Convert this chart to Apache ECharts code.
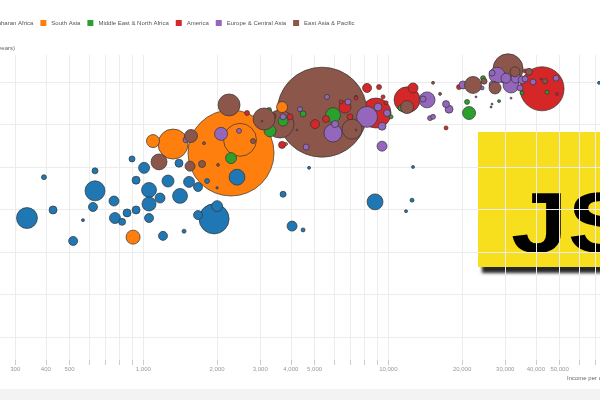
<!DOCTYPE html>
<html>
<head>
<meta charset="utf-8">
<script src="https://cdn.jsdelivr.net/npm/echarts@6/dist/echarts.min.js"></script>
<style>
  html, body { margin: 0; padding: 0; background: #f3f3f3; }
  #chart { width: 600px; height: 389px; background: #fff; }
</style>
</head>
<body>
<div id="chart"></div>
<script>
// Gapminder style bubbles: [income per capita, life expectancy, population (millions)]
const REGIONS = ['Sub-Saharan Africa', 'South Asia', 'Middle East & North Africa',
  'America', 'Europe & Central Asia', 'East Asia & Pacific']
const COLORS = ['#1f77b4', '#ff7f0e', '#2ca02c', '#d62728', '#9467bd', '#8c564b']

const SUB_SAHARAN = [
  [335, 48.0, 69], [393, 57.6, 3.9], [428, 49.9, 10], [517, 42.6, 12.8], [567, 47.5, 1.4],
  [635, 59.1, 5.7], [635, 54.4, 63], [623, 50.6, 12.8], [759, 52.0, 15.7], [766, 48.0, 19],
  [819, 47.1, 7.7], [858, 49.2, 10], [899, 61.9, 5.7], [934, 49.9, 10], [934, 56.9, 10],
  [1007, 59.8, 19], [1055, 54.6, 35], [1055, 51.3, 31], [1055, 48.0, 12.8], [1170, 52.7, 15.7],
  [1203, 43.8, 12.8], [1261, 56.7, 22.7], [1398, 60.9, 10], [1412, 53.2, 35], [1466, 44.9, 2.5],
  [1537, 56.5, 19], [1672, 55.3, 12.8], [1672, 48.7, 12.8], [1820, 56.7, 3.9], [2000, 55.1, 0.9],
  [1944, 47.8, 142], [2000, 50.8, 19], [2412, 57.6, 40], [3718, 53.6, 5.7], [4046, 46.1, 15.7],
  [4486, 45.2, 2.5], [4747, 59.8, 1.4], [8826, 51.8, 40], [12494, 52.2, 2.5], [11810, 49.6, 1.4],
  [12612, 60.0, 1.4], [7384, 76.5, 1.4], [72440, 79.8, 1.4],
]
const SOUTH_ASIA = [
  [2280, 63.3, 1165], [2481, 66.4, 171], [1322, 65.4, 142], [1095, 66.1, 26.6],
  [908, 43.5, 31], [3683, 74.1, 19], [3824, 65.4, 1.4],
]
const MIDDLE_EAST = [
  [2280, 62.1, 19], [3290, 68.5, 22.7], [3260, 73.4, 3.9], [3718, 70.8, 15.7], [4486, 72.5, 5.7],
  [5946, 72.2, 35], [6719, 73.9, 5.7], [10256, 71.8, 2.5], [11270, 73.9, 5.7], [20954, 75.3, 3.9],
  [21350, 72.7, 26.6], [24356, 80.9, 3.9], [28306, 75.5, 1.4], [35136, 77.4, 2.5], [44449, 77.6, 2.5],
]
const AMERICA = [
  [1181, 61.2, 7.7], [2650, 72.7, 3.9], [3383, 72.0, 5.7], [3971, 71.8, 5.7], [3683, 65.2, 7.7],
  [5022, 70.1, 12.8], [5568, 71.3, 7.7], [6656, 74.1, 22.7], [6978, 71.8, 5.7], [6411, 75.3, 2.5],
  [8187, 78.6, 12.8], [9162, 78.8, 3.9], [7384, 76.2, 2.5], [8909, 72.7, 142], [9786, 75.1, 2.5],
  [9514, 76.5, 2.5], [12612, 78.6, 15.7], [11921, 75.8, 106], [17198, 69.2, 2.5], [19436, 78.8, 3.9],
  [36143, 82.6, 2.5], [42403, 78.4, 305], [42014, 80.7, 0.6], [48838, 77.2, 1.4],
]
const EUROPE = [
  [1494, 66.4, 5.7], [2076, 67.8, 26.6], [2458, 68.5, 3.9], [3718, 71.8, 5.7], [4362, 73.6, 3.9],
  [5621, 76.5, 3.9], [5946, 68.0, 51], [6058, 70.1, 7.7], [6847, 75.3, 5.7], [4615, 64.7, 5.7],
  [8187, 71.8, 69], [9078, 74.1, 10], [9425, 69.6, 10], [9425, 64.9, 15.7], [9879, 72.7, 7.7],
  [13858, 76.0, 5.7], [14390, 75.8, 40], [17198, 74.8, 7.7], [17691, 73.6, 10], [14799, 71.5, 3.9],
  [15220, 71.8, 3.9], [20180, 79.3, 10], [24130, 78.6, 2.5], [26506, 74.8, 0.6], [31682, 76.2, 0.6],
  [27781, 81.6, 40], [26752, 79.3, 10], [26506, 82.1, 5.7], [31682, 79.3, 40], [30224, 80.9, 15.7],
  [33209, 80.9, 15.7], [34485, 78.6, 5.7], [35136, 80.5, 10], [36143, 80.7, 5.7], [38960, 80.0, 5.7],
  [48380, 80.9, 5.7],
]
const EAST_ASIA = [
  [5362, 72.9, 1275], [1159, 61.2, 40], [1565, 67.3, 26.6], [1551, 60.2, 15.7], [2238, 74.6, 76],
  [1736, 60.7, 7.7], [1769, 65.6, 1.4], [2018, 60.5, 1.4], [2804, 66.1, 3.9], [3110, 71.3, 76],
  [3614, 70.1, 123], [3052, 70.8, 0.6], [7110, 68.9, 63], [11921, 74.1, 26.6], [15220, 79.8, 1.4],
  [16255, 77.2, 1.4], [22165, 79.3, 45.5], [24585, 80.2, 5.7], [22800, 76.5, 0.6], [27261, 78.6, 22.7],
  [30800, 83.1, 142], [32897, 82.4, 15.7], [37523, 82.4, 7.7], [43618, 80.2, 3.9], [26257, 74.1, 0.6],
  [4240, 68.7, 0.6], [7384, 68.7, 0.6],
]
const REGION_DATA = [SUB_SAHARAN, SOUTH_ASIA, MIDDLE_EAST, AMERICA, EUROPE, EAST_ASIA]

const X_TICKS = [300, 400, 500, 600, 700, 800, 900, 1000, 2000, 3000, 4000, 5000, 6000, 7000,
  8000, 9000, 10000, 20000, 30000, 40000, 50000, 60000, 70000]
const X_LABELS = [300, 400, 500, 1000, 2000, 3000, 4000, 5000, 10000, 20000, 30000, 40000, 50000]
const Y_TICKS = [20, 30, 40, 50, 60, 70, 80]

const FONT = '"Liberation Sans", Arial, sans-serif'

// bubble area follows population; big countries go underneath everything else
function layer(i, rows) {
  return {
    name: REGIONS[i], type: 'scatter', silent: true,
    data: rows.slice().sort((a, b) => b[2] - a[2]),
    symbolSize: (d) => 2.52 * Math.sqrt(d[2]),
    itemStyle: { color: COLORS[i], borderColor: '#333', borderWidth: 0.7, opacity: 1 },
    emphasis: { disabled: true },
  }
}
const series = []
REGION_DATA.forEach((rows, i) => series.push(layer(i, rows.filter((d) => d[2] >= 100))))
REGION_DATA.forEach((rows, i) => series.push(layer(i, rows.filter((d) => d[2] < 100))))

const chart = echarts.init(document.getElementById('chart'))
chart.setOption({
  animation: false,
  textStyle: { fontFamily: FONT },
  grid: { left: 0, right: 0, top: 55, bottom: 29, outerBoundsMode: 'none', containLabel: false },
  legend: {
    data: REGIONS, left: -30, top: 20, padding: 0, icon: 'rect',
    itemWidth: 6, itemHeight: 6, itemGap: 7, selectedMode: false,
    itemStyle: { borderWidth: 0 },
    textStyle: { fontSize: 6, color: '#555', fontFamily: FONT },
  },
  xAxis: {
    type: 'log', logBase: 10, min: 260, max: 73100,
    name: 'Income per capita, inflation-adjusted (dollars)', nameLocation: 'end', nameGap: -33,
    nameMoveOverlap: false,
    nameTextStyle: { color: '#666', fontSize: 6, align: 'left', verticalAlign: 'top', lineHeight: 36 },
    axisLine: { show: false },
    axisTick: { show: true, length: 5, lineStyle: { color: '#ccc' }, customValues: X_TICKS },
    axisLabel: {
      customValues: X_LABELS, color: '#999', fontSize: 6, margin: 6,
      formatter: (v) => Number(v).toLocaleString('en-US'),
    },
    minorTick: { show: false },
    splitLine: { show: true, lineStyle: { color: '#ececec', width: 1 } },
  },
  yAxis: {
    type: 'value', min: 14.6, max: 86.35,
    name: 'Life expectancy (years)', nameLocation: 'end', nameGap: 7, nameMoveOverlap: false,
    nameTextStyle: { color: '#666', fontSize: 6, align: 'right', verticalAlign: 'middle', padding: [0, -15, 0, 0] },
    axisLine: { show: false },
    axisTick: { show: false, customValues: Y_TICKS },
    axisLabel: { customValues: Y_TICKS, color: '#999', fontSize: 6 },
    splitLine: { show: true, lineStyle: { color: '#ececec', width: 1 } },
  },
  series,
  graphic: [{
    type: 'group', z: 100,
    children: [
      {
        type: 'rect', shape: { x: 478, y: 132, width: 140, height: 135 },
        style: { fill: '#f7df1e', shadowBlur: 3, shadowOffsetX: 4, shadowOffsetY: 6, shadowColor: 'rgba(0,0,0,0.85)' },
      },
      {
        type: 'text', x: 511, y: 229, scaleX: 1.2,
        style: { text: 'JS', fill: '#000', fontSize: 85, fontWeight: 'bold', fontFamily: FONT, verticalAlign: 'middle' },
      },
    ],
  }],
})
</script>
</body>
</html>
